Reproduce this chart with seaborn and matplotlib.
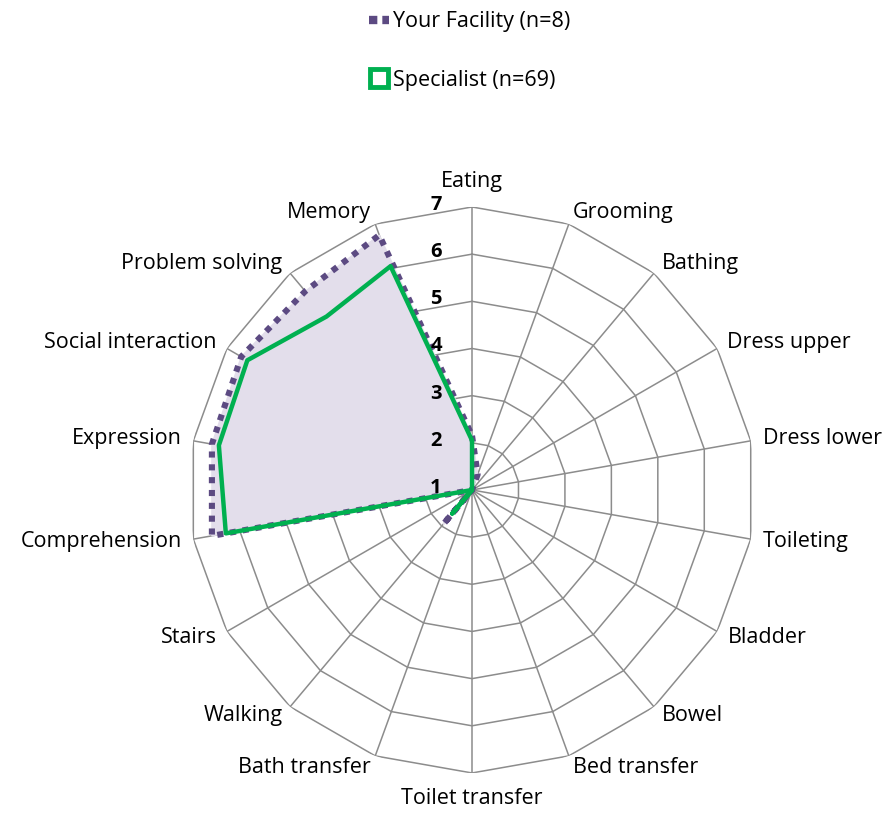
import numpy as np
import matplotlib
matplotlib.use("Agg")
import matplotlib.pyplot as plt
from matplotlib.lines import Line2D
import seaborn as sns

categories = ["Eating", "Grooming", "Bathing", "Dress upper", "Dress lower",
              "Toileting", "Bladder", "Bowel", "Bed transfer", "Toilet transfer",
              "Bath transfer", "Walking", "Stairs", "Comprehension", "Expression",
              "Social interaction", "Problem solving", "Memory"]
facility = [2.15, 1.35, 1, 1, 1, 1, 1, 1, 1, 1, 1, 1.95, 1, 6.6, 6.6, 6.65, 6.5, 6.75]
specialist = [2.05, 1, 1, 1, 1, 1, 1, 1, 1, 1, 1, 1.65, 1, 6.3, 6.45, 6.5, 5.8, 6.05]
rings = [2, 3, 4, 5, 6, 7]
tick_labels = ["1", "2", "3", "4", "5", "6", "7"]

sns.set_theme(style="white")
plt.rcParams["font.family"] = ["Open Sans", "DejaVu Sans"]
plt.rcParams["text.color"] = "black"

PURPLE = "#5c4a82"
FILL = "#e3deeb"
GREEN = "#00b050"
GRID = "#8c8c8c"
FS = 15.5

n = len(categories)
theta = np.arange(n) * 2 * np.pi / n
th_closed = np.append(theta, theta[0])

fig = plt.figure(figsize=(8.95, 8.21), dpi=100)
ax = fig.add_axes([0.2112, 0.0585, 0.6324, 0.6894], projection="polar")
ax.set_theta_zero_location("N")
ax.set_theta_direction(-1)
ax.set_ylim(1, 7)
ax.grid(False)
ax.spines["polar"].set_visible(False)
ax.set_xticks([])
ax.set_yticks([])
ax.patch.set_alpha(0)

# polygon grid
for r in rings:
    ax.plot(th_closed, [r] * (n + 1), color=GRID, lw=1.1, zorder=1)
for t in theta:
    ax.plot([t, t], [1, 7], color=GRID, lw=1.1, zorder=1)

fac = np.append(facility, facility[0])
spc = np.append(specialist, specialist[0])

ax.fill(th_closed, fac, color=FILL, zorder=2)
sns.lineplot(x=th_closed, y=fac, sort=False, ax=ax, color=PURPLE, lw=4.4,
             zorder=3, estimator=None)
ax.lines[-1].set_linestyle((0, (1, 1.1)))
ax.lines[-1].set_dash_capstyle("butt")
sns.lineplot(x=th_closed, y=spc, sort=False, ax=ax, color=GREEN, lw=3.2,
             zorder=4, estimator=None)

# radial tick labels
for v, lab in zip(range(1, 8), tick_labels):
    ax.annotate(lab, xy=(0, v), xytext=(-36, 2), textcoords="offset pixels",
                ha="center", va="center", fontsize=14.5, fontweight="bold",
                color="black", zorder=5)

# category labels
for t, lab in zip(theta, categories):
    s, c = np.sin(t), np.cos(t)
    if abs(s) < 0.1:
        ha = "center"
        va = "bottom" if c > 0 else "top"
        off = 15
    else:
        ha = "left" if s > 0 else "right"
        va = "center"
        off = 12
    ax.annotate(lab, xy=(t, 7), xytext=(off * s, off * c), textcoords="offset pixels",
                ha=ha, va=va, fontsize=FS, color="black", annotation_clip=False)

handles = [
    Line2D([], [], color=PURPLE, lw=6, linestyle=(0, (1, 0.6))),
    Line2D([], [], marker="s", markersize=13, markerfacecolor="white",
           markeredgecolor=GREEN, markeredgewidth=3.5, linestyle="none"),
]
fig.legend(handles, ["Your Facility (n=8)", "Specialist (n=69)"],
           loc="upper center", bbox_to_anchor=(0.525, 1.01), frameon=False,
           fontsize=FS, handlelength=0.9, handletextpad=0.2, labelspacing=1.75)

fig.savefig("out.png", dpi=100)
